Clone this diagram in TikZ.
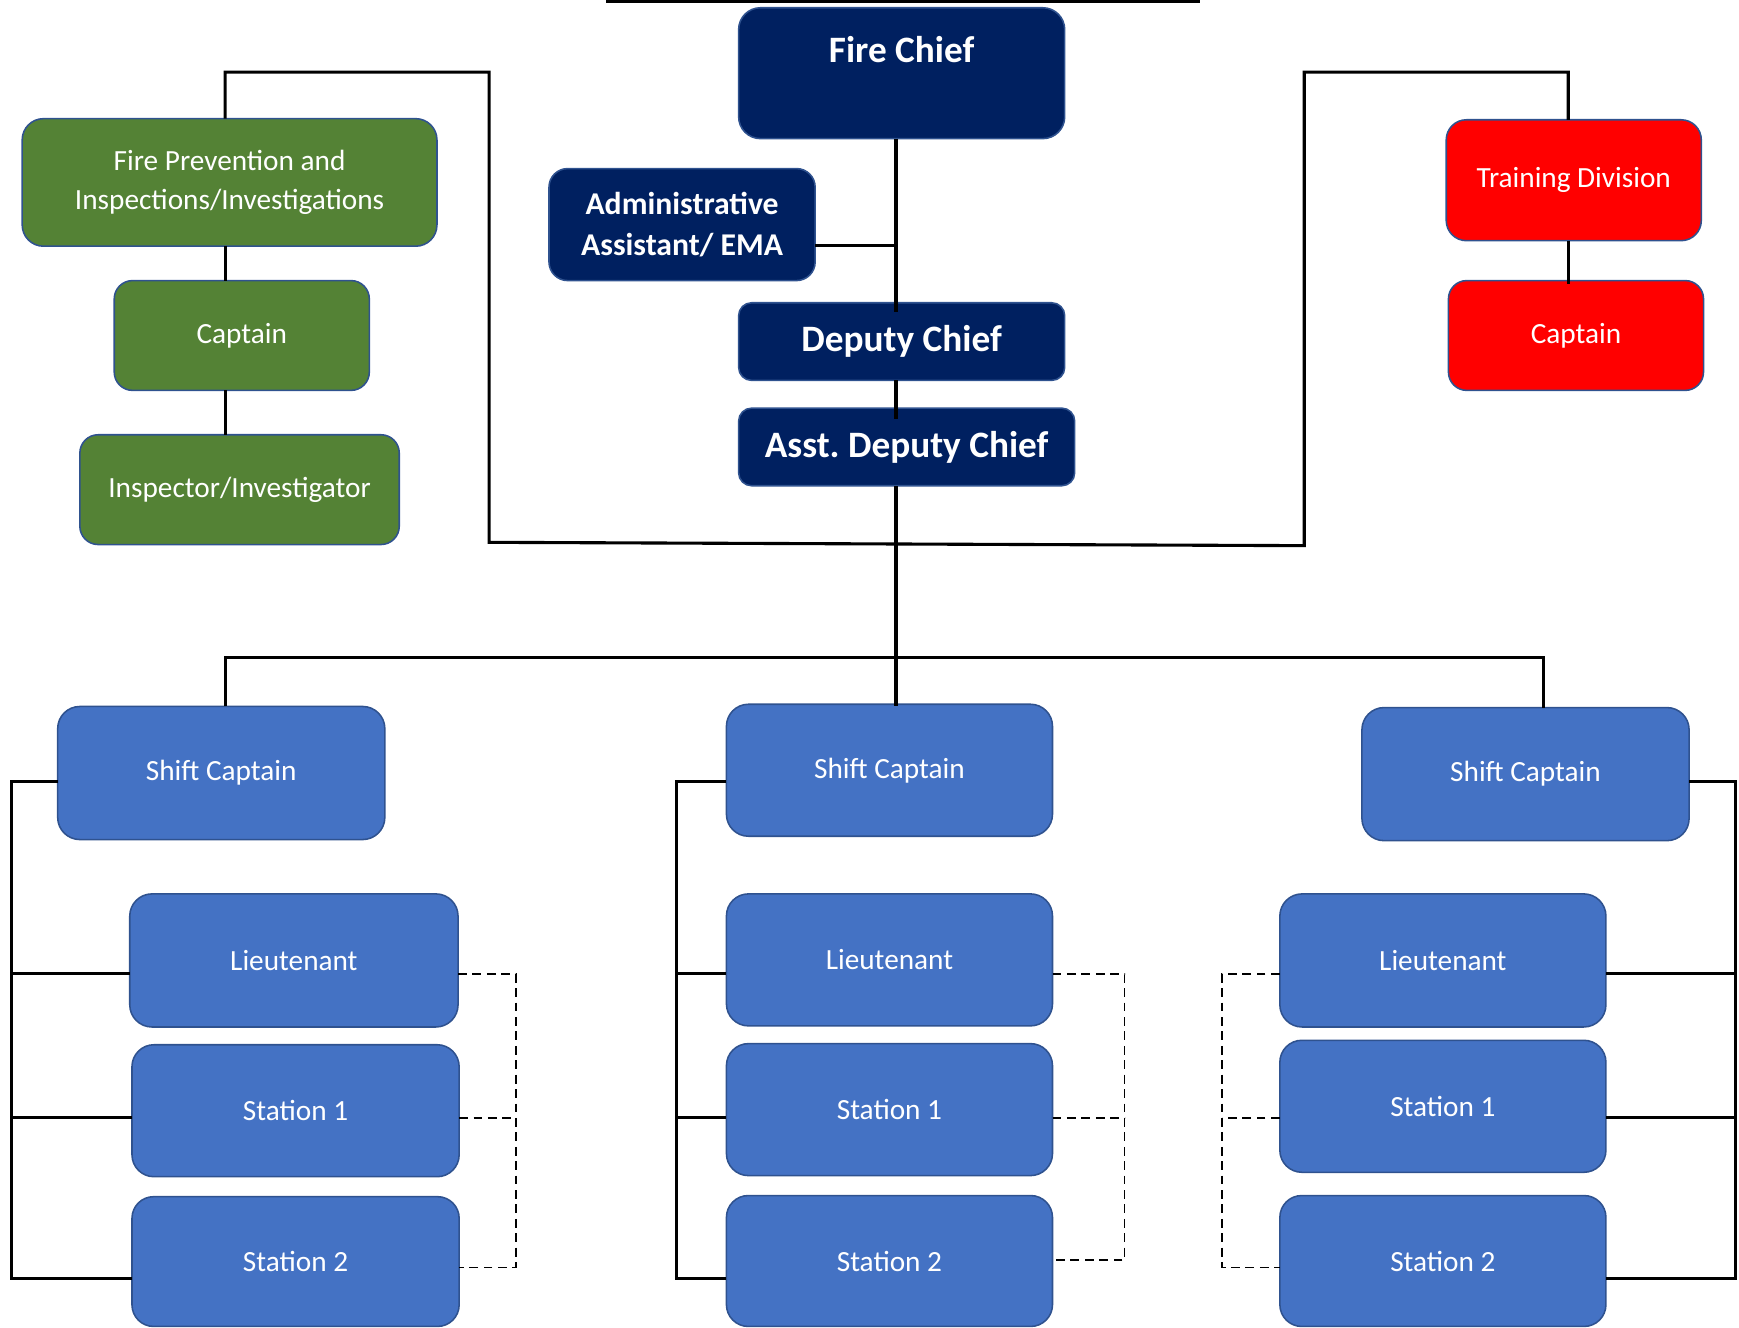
\documentclass[tikz,border=0pt]{standalone}
\usepackage{fontspec}
\setmainfont{Carlito}
\usetikzlibrary{calc}

\definecolor{navy}{HTML}{002060}
\definecolor{leafgreen}{HTML}{548235}
\definecolor{alertred}{HTML}{FF0000}
\definecolor{crewblue}{HTML}{4472C4}
\definecolor{edgeblue}{HTML}{2F528F}

\newcommand{\regfont}{\fontsize{13.2}{17.5}\selectfont}
\newcommand{\midbold}{\fontsize{14.3}{18.5}\selectfont\bfseries}
\newcommand{\bigbold}{\fontsize{16.8}{20}\selectfont\bfseries}

% box from its corner coordinates (x1,y1)-(x2,y2); corner radius follows the height
\newcommand{\orgbox}[7]{%
  \pgfmathsetmacro\boxw{(#4-#2)*0.5}%
  \pgfmathsetmacro\boxh{(#5-#3)*0.5}%
  \pgfmathsetmacro\boxr{(#5-#3)/12}%
  \node[#6, minimum width=\boxw pt, minimum height=\boxh pt, rounded corners=\boxr pt]
    (#1) at ({(#2+#4)/2},{(#3+#5)/2}) {#7};}

\tikzset{
  orgnode/.style={draw=edgeblue, line width=0.7pt, text=white, align=center,
    inner sep=2pt, outer sep=0pt},
  navybox/.style={orgnode, fill=navy},
  greenbox/.style={orgnode, fill=leafgreen, font=\regfont},
  redbox/.style={orgnode, fill=alertred, font=\regfont},
  crewbox/.style={orgnode, fill=crewblue, font=\regfont},
  link/.style={line width=1.4pt, black},
  spinelink/.style={line width=1.7pt, black},
  dotlink/.style={line width=0.75pt, black, dash pattern=on 4pt off 2.5pt},
}

\begin{document}
\begin{tikzpicture}[x=0.5pt,y=-0.5pt]
\useasboundingbox (0,0) rectangle (1568,1197);

% command staff
\orgbox{fc}{666}{7}{960}{125}{navybox}{}
\node[text=white, font=\bigbold, inner sep=0pt] (fct) at (813,45) {Fire Chief};
\orgbox{adm}{495}{152}{735}{253}{navybox, font=\midbold}{Administrative\\Assistant/ EMA}
\orgbox{dc}{666}{273}{960}{343}{navybox, font=\bigbold}{Deputy Chief}
\orgbox{adc}{666}{368}{969}{438}{navybox, font=\bigbold}{Asst.\ Deputy Chief}

% fire prevention branch
\orgbox{fp}{20}{107}{394}{222}{greenbox}{Fire Prevention and\\Inspections/Investigations}
\orgbox{gcap}{103}{253}{333}{352}{greenbox}{Captain}
\orgbox{insp}{72}{392}{360}{491}{greenbox}{Inspector/Investigator}

% training branch
\orgbox{td}{1304}{108}{1534}{217}{redbox}{Training Division}
\orgbox{rcap}{1306}{253}{1536}{352}{redbox}{Captain}

% shift crews
\orgbox{scL}{52}{637}{347}{757}{crewbox}{Shift Captain}
\orgbox{ltL}{117}{806}{413}{926}{crewbox}{Lieutenant}
\orgbox{s1L}{119}{942}{414}{1061}{crewbox}{Station 1}
\orgbox{s2L}{119}{1079}{414}{1196}{crewbox}{Station 2}

\orgbox{scM}{655}{635}{949}{754}{crewbox}{Shift Captain}
\orgbox{ltM}{655}{806}{949}{925}{crewbox}{Lieutenant}
\orgbox{s1M}{655}{941}{949}{1060}{crewbox}{Station 1}
\orgbox{s2M}{655}{1078}{949}{1196}{crewbox}{Station 2}

\orgbox{scR}{1228}{638}{1523}{758}{crewbox}{Shift Captain}
\orgbox{ltR}{1154}{806}{1448}{926}{crewbox}{Lieutenant}
\orgbox{s1R}{1154}{938}{1448}{1057}{crewbox}{Station 1}
\orgbox{s2R}{1154}{1078}{1448}{1196}{crewbox}{Station 2}

% reference coordinates for the connector runs
\coordinate (topl) at (546,0.5);
\coordinate (topr) at (1082,0.5);
\coordinate (spine) at (808,0);
\coordinate (admy) at (0,221);
\coordinate (topy) at (0,65);
\coordinate (lb) at (441,489);
\coordinate (rb) at (1176,492);
\coordinate (fpx) at (203,0);
\coordinate (tdx) at (1414,0);
\coordinate (busy) at (0,593);
\coordinate (bl) at (203,0);
\coordinate (br) at (1392,0);
\coordinate (ya) at (0,705);
\coordinate (yb) at (0,878);
\coordinate (yc) at (0,1008);
\coordinate (yd) at (0,1153);
\coordinate (ye) at (0,1143);
\coordinate (yf) at (0,1136);
\coordinate (gLx) at (10,0);
\coordinate (dLx) at (465,0);
\coordinate (gMx) at (610,0);
\coordinate (dMx) at (1014,0);
\coordinate (gRx) at (1565,0);
\coordinate (dRx) at (1102,0);

% top rule
\draw[line width=2pt] (topl) -- (topr);

% chain of command
\draw[spinelink] (fc.south -| spine) -- ($(dc.north -| spine)+(0,8)$);
\draw[link] (adm.east |- admy) -- (spine |- admy);
\draw[spinelink] (dc.south -| spine) -- ($(adc.north -| spine)+(0,10)$);
\draw[spinelink] (adc.south -| spine) -- ($(scM.north -| spine)+(0,2)$);

% staff branches on both sides
\draw[link] (fp.north -| fpx) -- (fpx |- topy) -- (lb |- topy) -- (lb) -- (rb)
  -- (rb |- topy) -- (tdx |- topy) -- (td.north -| tdx);
\draw[link] (fp.south -| fpx) -- (gcap.north -| fpx);
\draw[link] (gcap.south -| fpx) -- (insp.north -| fpx);
\draw[link] (td.south -| tdx) -- ($(rcap.north -| tdx)+(0,3)$);

% bus to the shift captains
\draw[link] (scL.north -| bl) -- (bl |- busy) -- (br |- busy) -- (scR.north -| br);

% left crew
\draw[link] (scL.west |- ya) -- (gLx |- ya) -- (gLx |- yd) -- (s2L.west |- yd);
\draw[link] (gLx |- yb) -- (ltL.west |- yb);
\draw[link] (gLx |- yc) -- (s1L.west |- yc);
\draw[dotlink] (ltL.east |- yb) -- (dLx |- yb) -- (dLx |- ye) -- (s2L.east |- ye);
\draw[dotlink] (s1L.east |- yc) -- (dLx |- yc);

% middle crew
\draw[link] (scM.west |- ya) -- (gMx |- ya) -- (gMx |- yd) -- (s2M.west |- yd);
\draw[link] (gMx |- yb) -- (ltM.west |- yb);
\draw[link] (gMx |- yc) -- (s1M.west |- yc);
\draw[dotlink] (ltM.east |- yb) -- (dMx |- yb) -- (dMx |- yf) -- (s2M.east |- yf);
\draw[dotlink] (s1M.east |- yc) -- (dMx |- yc);

% right crew
\draw[link] (scR.east |- ya) -- (gRx |- ya) -- (gRx |- yd) -- (s2R.east |- yd);
\draw[link] (gRx |- yb) -- (ltR.east |- yb);
\draw[link] (gRx |- yc) -- (s1R.east |- yc);
\draw[dotlink] (ltR.west |- yb) -- (dRx |- yb) -- (dRx |- ye) -- (s2R.west |- ye);
\draw[dotlink] (s1R.west |- yc) -- (dRx |- yc);
\end{tikzpicture}
\end{document}
